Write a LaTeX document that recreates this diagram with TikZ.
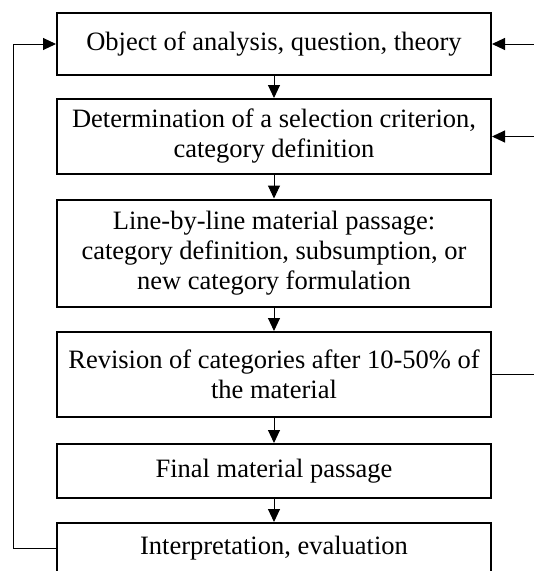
\documentclass[tikz,border=0pt]{standalone}
\usepackage{fontspec}
\setmainfont{Liberation Serif}
\usetikzlibrary{arrows.meta}
\begin{document}
\begin{tikzpicture}[x=1pt,y=-1pt,
  stepbox/.style={draw,line width=2pt,minimum width=434pt,align=center,inner sep=0pt,
    font=\fontsize{26.5}{30}\selectfont},
  conn/.style={line width=1pt,-{Triangle[length=13pt,width=12pt]}},
  plain/.style={line width=1pt}]
\useasboundingbox (0,0) rectangle (534,571);
\node[stepbox,minimum height=62pt] (b1) at (274,44) {Object of analysis, question, theory};
\node[stepbox,minimum height=75pt] (b2) at (274,136.5) {Determination of a selection criterion,\\category definition};
\node[stepbox,minimum height=107pt] (b3) at (274,253) {Line-by-line material passage:\\category definition, subsumption, or\\new category formulation};
\node[stepbox,minimum height=85pt] (b4) at (274,374.5) {Revision of categories after 10-50\% of\\the material};
\node[stepbox,minimum height=54pt] (b5) at (274,471) {Final material passage};
\node[stepbox,minimum height=50pt] (b6) at (274,548) {Interpretation, evaluation};
\draw[conn] (b1) -- (b2);
\draw[conn] (b2) -- (b3);
\draw[conn] (b3) -- (b4);
\draw[conn] (b4) -- (b5);
\draw[conn] (b5) -- (b6);
\coordinate (l1) at (13,548);
\coordinate (l2) at (13,44);
\draw[conn] (b6.west) -- (l1) -- (l2) -- (b1.west);
\coordinate (r1) at (534,44);
\coordinate (r2) at (534,136.5);
\coordinate (r4) at (534,374.5);
\draw[conn] (r1) -- (b1.east);
\draw[conn] (r2) -- (b2.east);
\draw[plain] (b4.east) -- (r4);
\end{tikzpicture}
\end{document}
